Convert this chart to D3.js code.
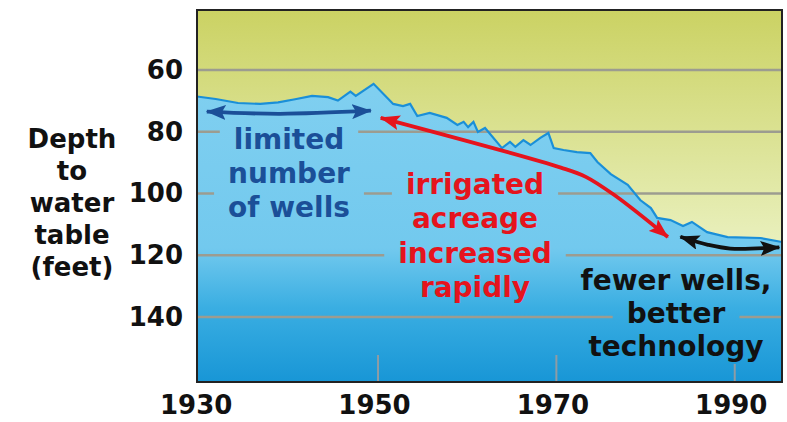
<!DOCTYPE html>
<html>
<head>
<meta charset="utf-8">
<script src="https://cdn.jsdelivr.net/npm/d3@7"></script>
<style>
  body { margin: 0; background: #fff; }
  text { font-family: "DejaVu Sans", sans-serif; font-weight: bold; }
</style>
</head>
<body>
<div id="chart"></div>
<script>
// water table readings (year, depth in feet)
var years  = [1929.7, 1931.8, 1934.3, 1936.8, 1938.8, 1940.7, 1942.6, 1944.4, 1945.5, 1946.9,
              1947.5, 1949.5, 1951.7, 1952.8, 1953.6, 1954.4, 1955.8, 1957.7, 1958.9, 1959.6,
              1960.1, 1960.7, 1961.2, 1962.0, 1963.9, 1964.8, 1965.4, 1966.3, 1967.1, 1968.2,
              1969.1, 1969.7, 1970.8, 1972.3, 1973.8, 1974.6, 1976.1, 1978.0, 1979.4, 1980.6,
              1981.3, 1982.8, 1984.2, 1985.2, 1986.9, 1989.2, 1992.9, 1995.3];
var depths = [68.6, 69.4, 70.7, 71.0, 70.5, 69.5, 68.4, 68.8, 69.9, 67.0,
              68.4, 64.5, 71.0, 71.7, 71.0, 74.9, 73.9, 75.5, 77.8, 76.8,
              78.5, 76.8, 80.1, 78.8, 85.3, 83.3, 84.9, 82.7, 84.3, 82.0,
              80.4, 85.3, 85.9, 86.6, 86.9, 89.8, 93.7, 97.2, 102.1, 104.7,
              107.9, 108.6, 110.5, 109.2, 112.5, 114.1, 114.4, 115.7];

var xTicks = [1930, 1950, 1970, 1990];
var yTicks = [60, 80, 100, 120, 140];
var yTitle = ["Depth", "to", "water", "table", "(feet)"];

// annotations: text lines + arrow paths in data units
var blueLines  = ["limited", "number", "of wells"];
var blueArrow  = [[1930.8, 73.5], [1939.0, 74.2], [1949.2, 73.2]];
var redLines   = ["irrigated", "acreage", "increased", "rapidly"];
var redArrow   = [[1950.3, 75.5], [1970.5, 91.6], [1973.3, 94.6], [1976.5, 100.5], [1982.5, 114.1]];
var blackLines = ["fewer wells,", "better", "technology"];
var blackArrow = [[1983.9, 114.0], [1987.0, 116.6], [1989.5, 117.8], [1995.0, 117.4]];

var margin = {top: 10, right: 5, bottom: 40, left: 197},
    width = 787 - margin.left - margin.right,
    height = 422 - margin.top - margin.bottom;

var svg = d3.select("#chart")
    .append("svg")
        .attr("width", 787)
        .attr("height", 422);

var defs = svg.append("defs");

var g = svg.append("g")
    .attr("transform", "translate(" + margin.left + "," + margin.top + ")");

var x = d3.scaleLinear()
    .domain([1929.7, 1995.3])
    .range([0, width]);

var y = d3.scaleLinear()
    .domain([40.6, 161])
    .range([0, height]);

// gradients
var yel = defs.append("linearGradient")
    .attr("id", "yel").attr("gradientUnits", "userSpaceOnUse")
    .attr("x1", 0).attr("y1", 0).attr("x2", 0).attr("y2", height);
yel.append("stop").attr("offset", 0).attr("stop-color", "#cbd263");
yel.append("stop").attr("offset", 0.65).attr("stop-color", "#eaf1c0");
yel.append("stop").attr("offset", 1).attr("stop-color", "#f2f6d2");

var blu = defs.append("linearGradient")
    .attr("id", "blu").attr("gradientUnits", "userSpaceOnUse")
    .attr("x1", 0).attr("y1", 0).attr("x2", 0).attr("y2", height);
blu.append("stop").attr("offset", 0).attr("stop-color", "#86d2f1");
blu.append("stop").attr("offset", 0.64).attr("stop-color", "#72c9ee");
blu.append("stop").attr("offset", 0.8).attr("stop-color", "#3aaee2");
blu.append("stop").attr("offset", 1).attr("stop-color", "#1896d6");

function marker(id, color) {
    defs.append("marker")
        .attr("id", id)
        .attr("markerUnits", "userSpaceOnUse")
        .attr("markerWidth", 20).attr("markerHeight", 15)
        .attr("refX", 19).attr("refY", 7.5)
        .attr("orient", "auto-start-reverse")
      .append("path")
        .attr("d", "M0,0 L20,7.5 L0,15 L4,7.5 z")
        .attr("fill", color);
}
marker("mBlue", "#1b4f98");
marker("mRed", "#e5141d");
marker("mBlack", "#111");

g.append("rect")
    .attr("width", width).attr("height", height)
    .attr("fill", "url(#yel)");

var data = years.map(function(d, i) { return [d, depths[i]]; });

var area = d3.area()
    .x(function(d) { return x(d[0]); })
    .y0(height)
    .y1(function(d) { return y(d[1]); });

var line = d3.line()
    .x(function(d) { return x(d[0]); })
    .y(function(d) { return y(d[1]); });

g.append("path")
    .datum(data)
    .attr("d", area)
    .attr("fill", "url(#blu)");

// text blocks (drawn later, but measured first for grid gaps)
var notes = svg.append("g").attr("class", "notes");

function block(lines, cx, y0, step, color) {
    lines.forEach(function(t, i) {
        notes.append("text")
            .attr("x", cx)
            .attr("y", y0 + i * step)
            .attr("text-anchor", "middle")
            .attr("font-size", 28)
            .attr("fill", color)
            .text(t);
    });
}

// grid, with gaps where the labels sit
var mask = defs.append("mask").attr("id", "gridMask")
    .attr("maskUnits", "userSpaceOnUse")
    .attr("x", -10).attr("y", -10).attr("width", width + 20).attr("height", height + 20);
mask.append("rect")
    .attr("x", -10).attr("y", -10).attr("width", width + 20).attr("height", height + 20)
    .attr("fill", "#fff");

var grid = g.append("g").attr("mask", "url(#gridMask)");

grid.selectAll(".hgrid")
    .data(yTicks)
  .enter().append("line")
    .attr("class", "hgrid")
    .attr("x1", 0).attr("x2", width)
    .attr("y1", function(d) { return y(d); })
    .attr("y2", function(d) { return y(d); })
    .attr("stroke", "#9c9c90")
    .attr("stroke-width", 2.5);

grid.selectAll(".vtick")
    .data(xTicks.slice(1))
  .enter().append("line")
    .attr("class", "vtick")
    .attr("x1", function(d) { return x(d); })
    .attr("x2", function(d) { return x(d); })
    .attr("y1", height - 27).attr("y2", height)
    .attr("stroke", "#8f9ca4")
    .attr("stroke-width", 2);

g.append("path")
    .datum(data)
    .attr("d", line)
    .attr("fill", "none")
    .attr("stroke", "#1a8fd8")
    .attr("stroke-width", 2.2);

// arrows
function arrow(pts, color, id, curve) {
    g.append("path")
        .datum(pts)
        .attr("d", line.curve(curve))
        .attr("fill", "none")
        .attr("stroke", color)
        .attr("stroke-width", 3.8)
        .attr("marker-start", "url(#" + id + ")")
        .attr("marker-end", "url(#" + id + ")");
}
arrow(blueArrow, "#1b4f98", "mBlue", d3.curveCatmullRom);
arrow(redArrow, "#e5141d", "mRed", d3.curveCatmullRom);
arrow(blackArrow, "#111", "mBlack", d3.curveCatmullRom);
line.curve(d3.curveLinear);

block(blueLines, 289, 149, 34, "#1b4f98");
block(redLines, 475, 194, 34.3, "#e5141d");
block(blackLines, 676, 290, 33, "#111");

notes.raise();

notes.selectAll("text").each(function() {
    var b = this.getBBox();
    mask.append("rect")
        .attr("x", b.x - margin.left - 14)
        .attr("y", b.y - margin.top - 1)
        .attr("width", b.width + 28)
        .attr("height", b.height + 2)
        .attr("fill", "#000");
});

// frame
g.append("rect")
    .attr("width", width).attr("height", height)
    .attr("fill", "none")
    .attr("stroke", "#222")
    .attr("stroke-width", 2);

// axes
var xAxis = g.append("g")
    .attr("transform", "translate(0," + height + ")")
    .call(d3.axisBottom(x).tickValues(xTicks).tickFormat(d3.format("d")).tickSize(0).tickPadding(14));
xAxis.select(".domain").remove();
xAxis.selectAll("text")
    .attr("font-size", 26)
    .attr("font-family", "DejaVu Sans")
    .attr("dx", -4)
    .attr("fill", "#111");

var yAxis = g.append("g")
    .call(d3.axisLeft(y).tickValues(yTicks).tickSize(0).tickPadding(14));
yAxis.select(".domain").remove();
yAxis.selectAll("text")
    .attr("font-size", 26)
    .attr("font-family", "DejaVu Sans")
    .attr("fill", "#111");

svg.append("g").selectAll("text")
    .data(yTitle)
  .enter().append("text")
    .attr("x", 72)
    .attr("y", function(d, i) { return 148 + i * 32; })
    .attr("text-anchor", "middle")
    .attr("font-size", 26)
    .attr("fill", "#111")
    .text(function(d) { return d; });
</script>
</body>
</html>
